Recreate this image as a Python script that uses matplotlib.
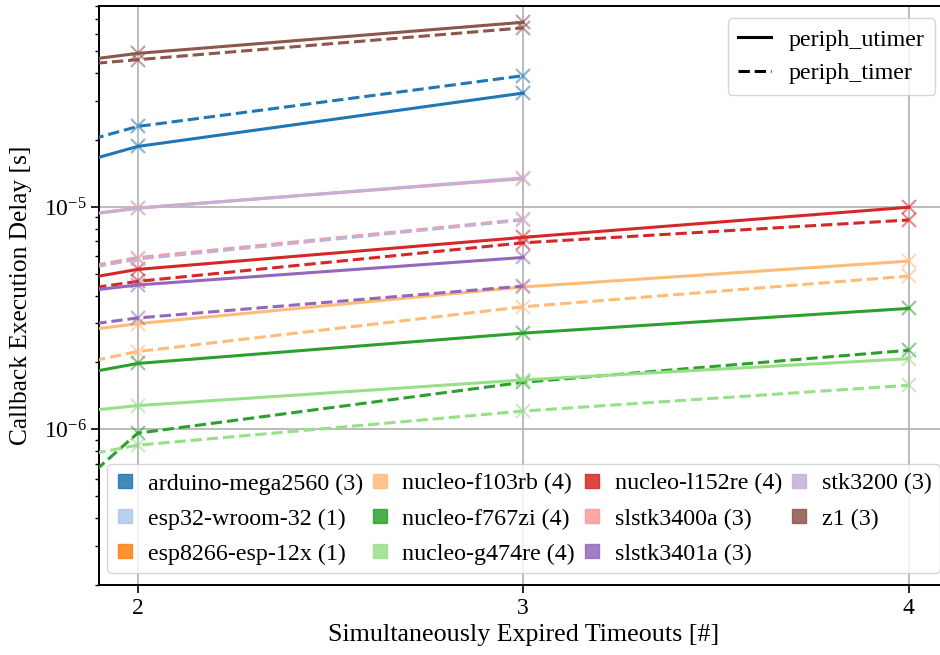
import matplotlib
matplotlib.use("Agg")
import matplotlib.pyplot as plt
from matplotlib.lines import Line2D

plt.rcParams["font.family"] = ["Liberation Serif", "DejaVu Serif"]
plt.rcParams["mathtext.fontset"] = "stix"
plt.rcParams["font.size"] = 17

# number of simultaneously expired timeouts
timeouts = [1, 2, 3, 4]

boards = ["arduino-mega2560", "esp32-wroom-32", "esp8266-esp-12x", "nucleo-f103rb",
          "nucleo-f767zi", "nucleo-g474re", "nucleo-l152re", "slstk3400a",
          "slstk3401a", "stk3200", "z1"]

# mean callback delay in seconds, periph_utimer (solid) and periph_timer (dashed)
utimer_delay = [
    [6.1e-6, 1.87e-5, 3.25e-5],
    [1.5e-5],
    [2.2e-5],
    [1.80e-6, 2.99e-6, 4.37e-6, 5.71e-6],
    [9.5e-7, 1.98e-6, 2.71e-6, 3.50e-6],
    [8.5e-7, 1.28e-6, 1.67e-6, 2.08e-6],
    [2.62e-6, 5.24e-6, 7.30e-6, 9.97e-6],
    [5.9e-6, 9.9e-6, 1.34e-5],
    [2.81e-6, 4.46e-6, 5.93e-6],
    [5.94e-6, 9.86e-6, 1.35e-5],
    [2.95e-5, 4.90e-5, 6.76e-5],
]
timer_delay = [
    [7.6e-6, 2.30e-5, 3.89e-5],
    [1.7e-5],
    [2.6e-5],
    [9.8e-7, 2.24e-6, 3.56e-6, 4.89e-6],
    [2.8e-8, 9.62e-7, 1.63e-6, 2.27e-6],
    [4.0e-7, 8.5e-7, 1.21e-6, 1.58e-6],
    [2.6e-6, 4.63e-6, 6.90e-6, 8.74e-6],
    [2.9e-6, 5.92e-6, 8.80e-6],
    [1.87e-6, 3.17e-6, 4.41e-6],
    [2.81e-6, 5.83e-6, 8.74e-6],
    [3.25e-5, 4.59e-5, 6.38e-5],
]

colors = plt.get_cmap("tab20").colors

fig = plt.figure(figsize=(9.4, 6.55), dpi=100)
ax = fig.add_axes([99 / 940, 70 / 655, 848.5 / 940, 579 / 655])

for i, name in enumerate(boards):
    c = colors[i]
    for delays, ls in ((utimer_delay[i], "-"), (timer_delay[i], "--")):
        xs = timeouts[:len(delays)]
        ax.plot(xs, delays, color=c, linestyle=ls, linewidth=2.2, zorder=3)
        ax.plot(xs, delays, color=c, linestyle="", marker="x", markersize=10.5,
                markeredgewidth=1.5, alpha=0.55, zorder=3)

ax.set_yscale("log")
ax.set_xlim(1.9, 4.1)
ax.set_ylim(2e-7, 8e-5)
ax.set_xticks([2, 3, 4])
ax.grid(True, which="major", color="#b0b0b0", linewidth=1.2)
ax.set_axisbelow(True)
for s in ax.spines.values():
    s.set_linewidth(1.4)
ax.tick_params(which="major", length=5.5, width=1.2, labelsize=17)
ax.tick_params(which="minor", length=3, width=1.0)

ax.set_xlabel("Simultaneously Expired Timeouts [#]", fontsize=18.7)
ax.set_ylabel("Callback Execution Delay [s]", fontsize=18.3, labelpad=8)

board_handles = [Line2D([], [], color=colors[i], marker="s", linestyle="",
                        markersize=10.5, alpha=0.85)
                 for i in range(len(boards))]
board_labels = [f"{b} ({len(utimer_delay[i])})" for i, b in enumerate(boards)]
leg1 = ax.legend(board_handles, board_labels, loc="lower center", ncol=4,
                 fontsize=17.3, borderaxespad=0.5, borderpad=0.35,
                 handlelength=0.8, handletextpad=0.55,
                 columnspacing=0.3, labelspacing=0.55)
ax.add_artist(leg1)

style_handles = [Line2D([], [], color="black", linestyle="-", linewidth=2.2),
                 Line2D([], [], color="black", linestyle="--", linewidth=2.2)]
ax.legend(style_handles, ["periph_utimer", "periph_timer"], loc="upper right",
          fontsize=17.3, borderaxespad=0.5, borderpad=0.45,
          handlelength=1.35, handletextpad=0.75, labelspacing=0.5)

fig.savefig("out.png", dpi=100)
